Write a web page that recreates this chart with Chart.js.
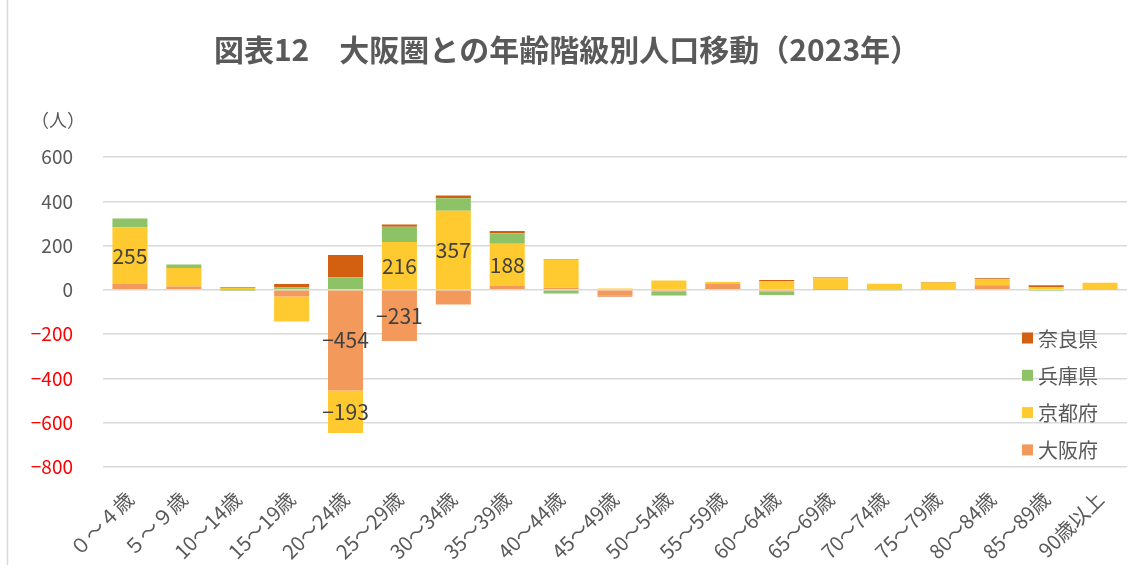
<!DOCTYPE html>
<html>
<head>
<meta charset="utf-8">
<script src="https://cdn.jsdelivr.net/npm/chart.js@4.4.1/dist/chart.umd.min.js"></script>
<style>
  body { margin: 0; background: #fff; }
  #wrap { width: 1131px; height: 575px; position: relative; }
</style>
</head>
<body>
<div id="wrap"><canvas id="chart" width="1131" height="575"></canvas></div>
<script>
const categories = ['０～４歳', '５～９歳', '10～14歳', '15～19歳', '20～24歳', '25～29歳', '30～34歳',
    '35～39歳', '40～44歳', '45～49歳', '50～54歳', '55～59歳', '60～64歳', '65～69歳',
    '70～74歳', '75～79歳', '80～84歳', '85～89歳', '90歳以上'];

// stacked from zero outward in this order
const osaka = [27, 15, 2, -30, -454, -231, -66, 20, 10, -27, -7, 26, -7, 2, 3, 3, 21, 4, 3];
const kyoto = [255, 84, 8, -113, -193, 216, 357, 188, 126, 6, 42, 9, 40, 50, 25, 30, 27, 9, 29];
const hyogo = [40, 16, -5, 12, 57, 69, 57, 48, -16, -1, -17, -3, -16, 0, -4, 0, 0, -5, 0];
const nara = [0, 0, 3, 14, 100, 10, 12, 10, 2, -2, -2, 0, 4, 4, 0, 3, 4, 8, 0];

const yTicks = [600, 400, 200, 0, -200, -400, -600, -800];

const FONT = "'Noto Sans CJK JP', 'Noto Sans', sans-serif";
const GREY = '#595959';

const colors = {
    osaka: '#F2995B',
    kyoto: '#FFCA2F',
    hyogo: '#8DC266',
    nara: '#D35F10'
};

const fmt = v => (v < 0 ? '\u2212' + Math.abs(v) : String(v));

/* ---------- extras drawn on the canvas ---------- */

const extras = {
    id: 'extras',
    afterDatasetsDraw(chart) {
        const ctx = chart.ctx;
        ctx.save();

        // data labels on the big segments
        ctx.font = '21px ' + FONT;
        ctx.fillStyle = '#404040';
        ctx.textAlign = 'center';
        ctx.textBaseline = 'middle';
        [0, 1].forEach(di => {
            const meta = chart.getDatasetMeta(di);
            const data = chart.data.datasets[di].data;
            meta.data.forEach((el, i) => {
                if (Math.abs(data[i]) < 150) return;
                const { x, y, base } = el.getProps(['x', 'y', 'base'], true);
                ctx.fillText(fmt(data[i]), x, (y + base) / 2);
            });
        });
        ctx.restore();
    },
    afterDraw(chart) {
        const ctx = chart.ctx;
        ctx.save();

        // frame line on the left
        ctx.strokeStyle = '#d9d9d9';
        ctx.lineWidth = 1.5;
        ctx.beginPath();
        ctx.moveTo(7.5, 0);
        ctx.lineTo(7.5, 565);
        ctx.stroke();

        // title
        ctx.fillStyle = GREY;
        ctx.textAlign = 'center';
        ctx.textBaseline = 'middle';
        ctx.font = 'bold 30px ' + FONT;
        ctx.fillText('図表12　大阪圏との年齢階級別人口移動（2023年）', 567, 50);

        // unit
        ctx.font = '18px ' + FONT;
        ctx.fillText('（人）', 58, 120);

        // legend (reverse order)
        const items = [
            ['奈良県', colors.nara],
            ['兵庫県', colors.hyogo],
            ['京都府', colors.kyoto],
            ['大阪府', colors.osaka]
        ];
        ctx.textAlign = 'left';
        ctx.font = '20px ' + FONT;
        items.forEach(([label, c], i) => {
            const cy = 338 + i * 37.3;
            ctx.fillStyle = c;
            ctx.fillRect(1022, cy - 5.5, 11, 11);
            ctx.fillStyle = GREY;
            ctx.fillText(label, 1038, cy + 1);
        });

        ctx.restore();
    }
};

const ds = (label, data, color) => ({
    label,
    data,
    backgroundColor: color,
    borderWidth: 0,
    barPercentage: 0.65,
    categoryPercentage: 1.0
});

new Chart(document.getElementById('chart').getContext('2d'), {
    type: 'bar',
    data: {
        labels: categories,
        datasets: [
            ds('大阪府', osaka, colors.osaka),
            ds('京都府', kyoto, colors.kyoto),
            ds('兵庫県', hyogo, colors.hyogo),
            ds('奈良県', nara, colors.nara)
        ]
    },
    options: {
        responsive: false,
        animation: false,
        layout: { padding: { top: 157, right: 4, bottom: 0, left: 0 } },
        plugins: {
            legend: { display: false },
            title: { display: false },
            tooltip: { enabled: false }
        },
        scales: {
            x: {
                stacked: true,
                grid: { display: false },
                border: { display: false },
                ticks: {
                    autoSkip: false,
                    maxRotation: 45,
                    minRotation: 45,
                    padding: 12,
                    color: GREY,
                    font: { family: FONT, size: 20 }
                },
                afterFit(scale) { scale.height = 108; }
            },
            y: {
                stacked: true,
                min: -800,
                max: 600,
                afterBuildTicks(scale) {
                    scale.ticks = yTicks.map(v => ({ value: v }));
                },
                grid: { color: '#d9d9d9', lineWidth: 1.5, drawTicks: false },
                border: { display: false },
                ticks: {
                    padding: 30,
                    color: ctx => (ctx.tick.value < 0 ? '#FF0000' : GREY),
                    font: { family: FONT, size: 19 },
                    callback: v => fmt(v)
                },
                afterFit(scale) { scale.width = 103; }
            }
        }
    },
    plugins: [extras]
});
</script>
</body>
</html>
